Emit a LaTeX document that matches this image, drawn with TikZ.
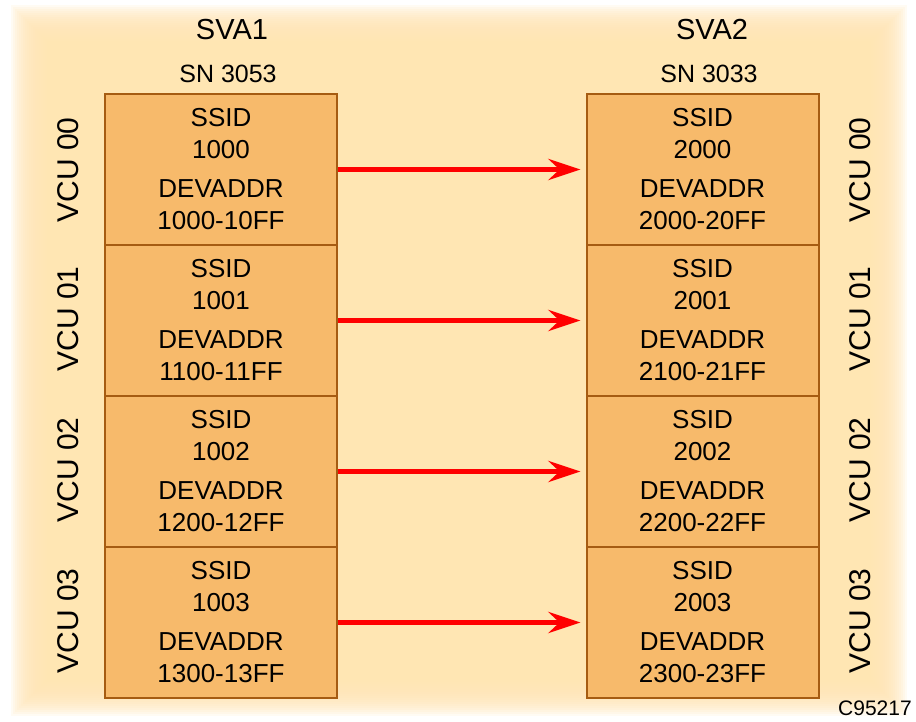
\documentclass[tikz,border=0pt]{standalone}
\usepackage{fontspec}
\setmainfont{Liberation Sans}
\usetikzlibrary{positioning,arrows.meta}
\definecolor{bgcream}{HTML}{FFE6B3}
\definecolor{unitfill}{HTML}{F7BA6B}
\definecolor{unitedge}{HTML}{A65C12}

\begin{document}
\begin{tikzpicture}[x=1pt, y=-1pt,
        unit/.style={draw=unitedge, line width=2pt, fill=unitfill, minimum width=232pt, minimum height=151pt, inner sep=0pt, align=center, font=\fontsize{26}{32}\selectfont},
        vcu/.style={rotate=90, inner sep=0pt, font=\fontsize{30}{36}\selectfont},
        link/.style={draw=red, line width=5.5pt, -{Stealth[length=32pt, width=21pt, inset=11pt]}, shorten >=5pt}]
        \useasboundingbox (0,0) rectangle (916,721);
        % soft background panel
        \fill[white] (0,0) rectangle (916,721);
        \foreach \i in {0,...,19}
            \fill[bgcream, opacity=0.15] (11+2*\i,5+2*\i) rectangle (907-2*\i,716-2*\i);
        \fill[bgcream] (50,44) rectangle (868,677);

        \node[font=\fontsize{29}{34}\selectfont] (sva1) at (232,30) {SVA1};
        \node[font=\fontsize{29}{34}\selectfont] (sva2) at (712,30) {SVA2};
        \node[font=\fontsize{25}{30}\selectfont] (sn1) at (228,74) {SN 3053};
        \node[font=\fontsize{25}{30}\selectfont] (sn2) at (709,74) {SN 3033};

        \node[unit] (a0) at (221,169.5) {SSID\\1000\\[7pt]DEVADDR\\1000-10FF};
        \node[unit] (a1) [below=-2pt of a0] {SSID\\1001\\[7pt]DEVADDR\\1100-11FF};
        \node[unit] (a2) [below=-2pt of a1] {SSID\\1002\\[7pt]DEVADDR\\1200-12FF};
        \node[unit] (a3) [below=-2pt of a2] {SSID\\1003\\[7pt]DEVADDR\\1300-13FF};

        \node[unit] (b0) at (702.5,169.5) {SSID\\2000\\[7pt]DEVADDR\\2000-20FF};
        \node[unit] (b1) [below=-2pt of b0] {SSID\\2001\\[7pt]DEVADDR\\2100-21FF};
        \node[unit] (b2) [below=-2pt of b1] {SSID\\2002\\[7pt]DEVADDR\\2200-22FF};
        \node[unit] (b3) [below=-2pt of b2] {SSID\\2003\\[7pt]DEVADDR\\2300-23FF};

        \node[vcu] (va0) at (68,170) {VCU 00};
        \node[vcu] (va1) at (68,319) {VCU 01};
        \node[vcu] (va2) at (68,470) {VCU 02};
        \node[vcu] (va3) at (68,621) {VCU 03};
        \node[vcu] (vb0) at (860,170) {VCU 00};
        \node[vcu] (vb1) at (860,319) {VCU 01};
        \node[vcu] (vb2) at (860,470) {VCU 02};
        \node[vcu] (vb3) at (860,621) {VCU 03};

        \draw[link] (a0) -- (b0);
        \draw[link] (a1) -- (b1);
        \draw[link] (a2) -- (b2);
        \draw[link] (a3) -- (b3);

        \node[font=\fontsize{21}{25}\selectfont] (tag) at (875,708) {C95217};
\end{tikzpicture}
\end{document}
